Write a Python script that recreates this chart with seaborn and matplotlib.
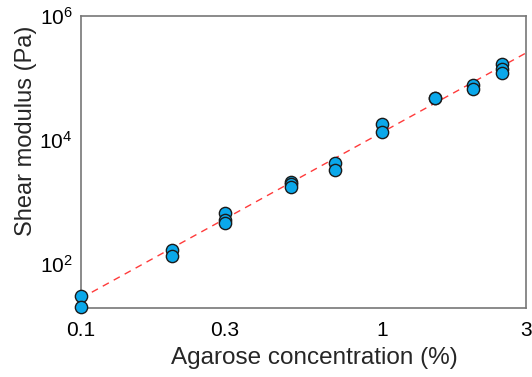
import numpy as np
import pandas as pd
import matplotlib
matplotlib.use("Agg")
import matplotlib.pyplot as plt
import matplotlib.ticker as mticker
import seaborn as sns

conc = [0.1, 0.1,
        0.2, 0.2,
        0.3, 0.3, 0.3,
        0.5, 0.5, 0.5,
        0.7, 0.7,
        1.0, 1.0,
        1.5, 1.5,
        2.0, 2.0,
        2.5, 2.5, 2.5]
modulus = [30, 20,
           165, 135,
           655, 515, 455,
           2130, 1950, 1770,
           4300, 3300,
           17900, 13300,
           47500, 46500,
           77000, 66000,
           168000, 140000, 122000]

# power-law fit line end points
fit_x = [0.1, 3.0]
fit_y = [28, 250000]

x_ticks = [0.1, 0.3, 1, 3]
x_ticklabels = ["0.1", "0.3", "1", "3"]
y_ticks = [1e2, 1e4, 1e6]

df = pd.DataFrame({"conc": conc, "modulus": modulus})

sns.set_style("white")
plt.rcParams["font.family"] = ["Liberation Sans", "DejaVu Sans"]

fig = plt.figure(figsize=(5.32, 3.77), dpi=100)
ax = fig.add_axes([0.152, 0.183, 0.836, 0.775])

ax.plot(fit_x, fit_y, color="#ff3b3b", lw=1.0, ls=(0, (5, 4)), zorder=2)
sns.scatterplot(data=df, x="conc", y="modulus", ax=ax, s=78,
                color="#0aa8ea", edgecolor="#1a1a1a", linewidth=1.0,
                zorder=3, clip_on=False, legend=False)

ax.set_xscale("log")
ax.set_yscale("log")
ax.set_xlim(0.1, 3)
ax.set_ylim(19.5, 1e6)

ax.set_xticks(x_ticks)
ax.set_xticklabels(x_ticklabels)
ax.xaxis.set_minor_locator(mticker.LogLocator(base=10, subs=np.arange(2, 10)))
ax.xaxis.set_minor_formatter(mticker.NullFormatter())

ax.set_yticks(y_ticks)
ax.yaxis.set_major_formatter(mticker.LogFormatterMathtext())
ax.yaxis.set_minor_locator(mticker.LogLocator(base=10, subs=np.arange(1, 10), numticks=20))
ax.yaxis.set_minor_formatter(mticker.NullFormatter())

ax.tick_params(which="both", direction="in", colors="#777777", labelcolor="black",
               labelsize=15, top=False, right=False)
ax.tick_params(which="major", length=5, width=0.8)
ax.tick_params(which="minor", length=3, width=0.6)
ax.tick_params(axis="x", pad=9)
ax.tick_params(axis="y", pad=6)

for sp in ax.spines.values():
    sp.set_color("#777777")
    sp.set_linewidth(1.2)

ax.set_xlabel("Agarose concentration (%)", fontsize=17.5)
ax.set_ylabel("Shear modulus (Pa)", fontsize=17)
# labels sit a bit off centre in the original
ax.xaxis.set_label_coords(0.524, -0.135)
ax.yaxis.set_label_coords(-0.098, 0.607)

fig.savefig("out.png", dpi=100)
